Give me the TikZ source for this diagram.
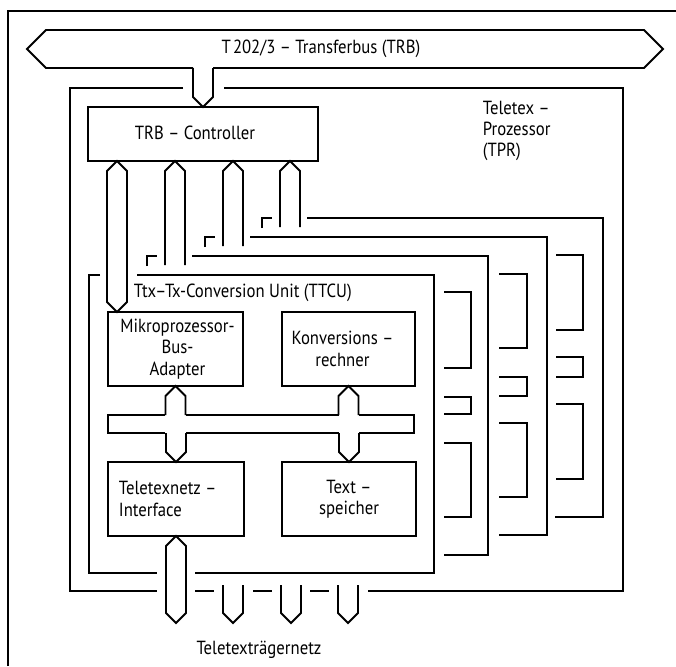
\documentclass[tikz,border=0pt]{standalone}
\usepackage{fontspec}
\setmainfont{PT Sans}[FakeStretch=0.88]
\usepackage{tikz}
\usetikzlibrary{calc,fit}

\tikzset{
  blk/.style={draw, line width=0.9pt, inner sep=0pt, outer sep=0pt},
  lbl/.style={font=\fontsize{9.5}{10.7}\selectfont, inner sep=0pt, align=center},
}

% hex bus connectors: \hexbus tip at both ends, \hexup tip at #1 only, \hexdn tip at #2 only
\newcommand{\hexbus}[2]{\draw (#1) -- ($(#1)+(10,10)$) -- ($(#2)+(10,-10)$) -- (#2) -- ($(#2)+(-10,-10)$) -- ($(#1)+(-10,10)$) -- cycle;}
\newcommand{\hexup}[2]{\draw ($(#2)+(-10,0)$) -- ($(#1)+(-10,10)$) -- (#1) -- ($(#1)+(10,10)$) -- ($(#2)+(10,0)$);}
\newcommand{\hexdn}[2]{\draw ($(#1)+(-10,0)$) -- ($(#2)+(-10,-10)$) -- (#2) -- ($(#2)+(10,-10)$) -- ($(#1)+(10,0)$);}

\begin{document}
\begin{tikzpicture}[x=0.5pt, y=-0.5pt, line width=0.9pt, line join=miter]
  \useasboundingbox (0,0) rectangle (676,666);

  % Page frame (left and top edge)
  \draw (8,666) -- (8,11) -- (676,11);

  % T202/3 Transfer bus
  \draw (193,68) -- (46,68) -- (27,49) -- (46,30) -- (644,30) -- (663,49) -- (644,68) -- (213,68);
  \node[lbl] (trb_lbl) at (321,49) {T\kern1pt202/3 -- Transferbus (TRB)};

  % Teletex processor frame
  \draw (183,88) -- (70,88) -- (70,591) -- (157,591);
  \draw (224,88) -- (623,88) -- (623,591) -- (368,591);
  \draw (195,591) -- (214,591) (253,591) -- (272,591) (310,591) -- (329,591);
  \node[lbl, anchor=west, align=left] (tpr_lbl) at (482,131) {Teletex --\\Prozessor\\(TPR)};

  % TRB Controller, fed from the transfer bus
  \node[blk, fit={(88,107) (318,161)}] (ctrl_box) {};
  \node[lbl] (ctrl_lbl) at ($(ctrl_box.center)+(-8,-1)$) {TRB -- Controller};
  \coordinate (trb_tap) at (ctrl_box.north |- 0,68);
  \hexdn{trb_tap}{ctrl_box.north}

  % Conversion units behind the front one (visible edges only)
  \draw (147,266) -- (147,256) -- (157,256) (192,256) -- (488,256) -- (488,555) -- (444,555);
  \draw (444,292) -- (471,292) -- (471,368) -- (444,368)
        (444,397) -- (471,397) -- (471,414) -- (444,414)
        (444,443) -- (471,443) -- (471,517) -- (444,517);
  \draw (205,247) -- (205,237) -- (215,237) (250,237) -- (547,237) -- (547,535) -- (499,535);
  \draw (499,274) -- (527,274) -- (527,348) -- (499,348)
        (499,377) -- (527,377) -- (527,396) -- (499,396)
        (499,423) -- (527,423) -- (527,497) -- (499,497);
  \draw (262,228) -- (262,218) -- (272,218) (307,218) -- (603,218) -- (603,517) -- (555,517);
  \draw (556,255) -- (583,255) -- (583,330) -- (556,330)
        (556,357) -- (583,357) -- (583,377) -- (556,377)
        (556,404) -- (583,404) -- (583,479) -- (556,479);

  % Front unit: Ttx-Tx-Conversion Unit
  \draw (100,275) -- (89,275) -- (89,573) -- (157,573);
  \draw (137,275) -- (434,275) -- (434,573) -- (195,573);
  \node[lbl, anchor=west] (ttcu_lbl) at (133,293) {Ttx--Tx-Conversion Unit (TTCU)};

  \node[blk, fit={(108,312) (243,386)}] (mba_box) {};
  \node[lbl] (mba_lbl) at ($(mba_box.center)+(2,0)$) {Mikroprozessor-\\Bus-\\Adapter};
  \node[blk, fit={(282,312) (415,386)}] (kvr_box) {};
  \node[lbl] (kvr_lbl) at ($(kvr_box.center)+(-6,0)$) {Konversions --\\rechner};
  \node[blk, fit={(108,462) (244,536)}] (tni_box) {};
  \node[lbl, anchor=west, align=left] (tni_lbl) at ($(tni_box.west)+(10,0)$) {Teletexnetz --\\Interface};
  \node[blk, fit={(282,462) (416,536)}] (tsp_box) {};
  \node[lbl] (tsp_lbl) at (tsp_box.center) {Text --\\speicher};

  % Internal bus bar
  \draw (165,415) -- (108,415) -- (108,433) -- (165,433);
  \draw (186,415) -- (339,415) (186,433) -- (339,433);
  \draw (359,415) -- (414,415) -- (414,433) -- (359,433);
  \coordinate (bb_mba) at (mba_box.south |- 0,415);
  \coordinate (bb_kvr) at (kvr_box.south |- 0,415);
  \coordinate (bb_tni) at (tni_box.north |- 0,433);
  \coordinate (bb_tsp) at (tsp_box.north |- 0,433);
  \hexup{mba_box.south}{bb_mba}
  \hexup{kvr_box.south}{bb_kvr}
  \hexdn{bb_tni}{tni_box.north}
  \hexdn{bb_tsp}{tsp_box.north}

  % Controller taps to the four units
  \coordinate (tap0) at ($(ctrl_box.south west)+(29,0)$);
  \coordinate (tap1) at ($(ctrl_box.south west)+(87,0)$);
  \coordinate (tap2) at ($(ctrl_box.south west)+(145,0)$);
  \coordinate (tap3) at ($(ctrl_box.south west)+(202,0)$);
  \coordinate (mba_in) at (tap0 |- mba_box.north);
  \hexbus{tap0}{mba_in}
  \hexup{tap1}{175,265}
  \hexup{tap2}{233,246}
  \hexup{tap3}{290,227}

  % Taps to the Teletex carrier network
  \coordinate (net0) at (tni_box.south |- 0,623);
  \hexbus{tni_box.south}{net0}
  \hexdn{233,585}{233,623}
  \hexdn{291,585}{291,623}
  \hexdn{348,585}{348,623}
  \node[lbl] (net_lbl) at (259,650) {Teletexträgernetz};
\end{tikzpicture}
\end{document}
